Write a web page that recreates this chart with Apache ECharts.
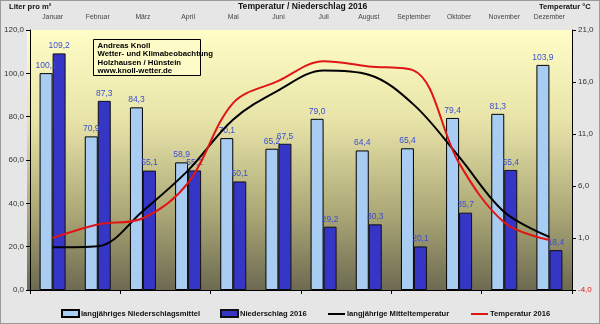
<!DOCTYPE html>
<html><head><meta charset="utf-8">
<script src="https://cdn.jsdelivr.net/npm/echarts@6/dist/echarts.min.js"></script>
<style>
html,body{margin:0;padding:0;background:#e4e4e4;}
#c{width:598px;height:322px;border:1px solid #9a9a9a;background:#e6e6e6;}
</style></head><body>
<div id="c"></div>
<script>
const months = ['Januar','Februar','März','April','Mai','Juni','Juli','August','September','Oktober','November','Dezember'];
const precipMean = [100.1, 70.9, 84.3, 58.9, 70.1, 65.2, 79.0, 64.4, 65.4, 79.4, 81.3, 103.9];
const precip2016 = [109.2, 87.3, 55.1, 55.2, 50.1, 67.5, 29.2, 30.3, 20.1, 35.7, 55.4, 18.4];
const tempMean = [0.1, 0.2, 3.6, 7.5, 12.4, 15.2, 17.1, 16.7, 13.8, 8.8, 3.5, 1.1];
const temp2016 = [1.0, 2.3, 2.9, 6.3, 14.0, 16.1, 18.0, 17.5, 17.1, 8.2, 2.5, 0.8];
const leftTicks = [0, 20, 40, 60, 80, 100, 120];
const rightTicks = [-4, 1, 6, 11, 16, 21];
const names = ['langjähriges Niederschlagsmittel','Niederschlag 2016','langjährige Mitteltemperatur','Temperatur 2016'];

const fmt = v => Number(v).toFixed(1).replace('.', ',');
const FONT = 'Liberation Sans, Arial, sans-serif';
const chart = echarts.init(document.getElementById('c'));
const barLabel = {show:true, position:'top', distance:3, fontSize:8.5, color:'#3b4fd0', fontFamily:FONT, formatter:p=>fmt(p.value)};
const legendPos = [60, 219, 327, 470];
const legendIcons = ['rect', 'rect', 'path://M0,0H17V2H0Z', 'path://M0,0H17V2H0Z'];
chart.setOption({
  animation:false,
  textStyle:{fontFamily:FONT},
  title:[
    {text:'Liter pro m²', left:8, top:2, padding:0, textStyle:{fontSize:7.6, fontWeight:'bold', color:'#111'}},
    {text:'Temperatur / Niederschlag 2016', left:237, top:1, padding:0, textStyle:{fontSize:8.6, fontWeight:'bold', color:'#111'}},
    {text:'Temperatur °C', left:538, top:2, padding:0, textStyle:{fontSize:7.6, fontWeight:'bold', color:'#111'}}
  ],
  grid:{left:25, right:27, top:29, bottom:33},
  legend: names.map((n,i)=>({
    bottom:5, left:legendPos[i], itemWidth:17, itemHeight:7, itemGap:0, padding:0,
    textStyle:{fontSize:7.6, fontWeight:'bold', color:'#111', padding:[0,0,0,-3]},
    data:[{name:n, icon:legendIcons[i]}]
  })),
  xAxis:[
    {type:'category', data:months, position:'bottom',
     axisLine:{lineStyle:{color:'#000'}}, axisTick:{show:true, length:4, lineStyle:{color:'#000'}},
     axisLabel:{show:false}},
    {type:'category', data:months, position:'top',
     axisLine:{show:false}, axisTick:{show:false},
     axisLabel:{fontSize:6.8, color:'#444', margin:9, interval:0}}
  ],
  yAxis:[
    {type:'value', min:0, max:120, interval:20, position:'left',
     axisLine:{show:true, lineStyle:{color:'#000'}},
     axisTick:{show:true, length:4, lineStyle:{color:'#000'}},
     splitLine:{show:false},
     axisLabel:{fontSize:8, color:'#333', margin:6, formatter:v=>fmt(v)}},
    {type:'value', min:-4, max:21, position:'right',
     axisLine:{show:true, lineStyle:{color:'#000'}},
     axisTick:{show:true, length:4, inside:false, customValues:rightTicks, lineStyle:{color:'#000'}},
     splitLine:{show:false},
     axisLabel:{fontSize:8, color:'#333', margin:6, customValues:rightTicks,
       formatter:v=> v<0 ? '{r|'+fmt(v)+'}' : fmt(v), rich:{r:{color:'#e01515', fontSize:8}}}}
  ],
  graphic:[
    {type:'rect', z:-10, silent:true, shape:{x:26, y:29, width:546, height:261},
     style:{fill:new echarts.graphic.LinearGradient(0,0,0,1,[
       {offset:0, color:'#fffec6'},{offset:0.35, color:'#e7e3a8'},{offset:0.7, color:'#aca877'},{offset:1, color:'#6c6951'}])}},
    {type:'group', left:92, top:38, z:100, children:[
      {type:'rect', shape:{x:0, y:0, width:107, height:36}, style:{fill:'#fdfbc8', stroke:'#000', lineWidth:1}},
      {type:'text', x:4, y:2, style:{text:'Andreas Knoll\nWetter- und Klimabeobachtung\nHolzhausen / Hünstein\nwww.knoll-wetter.de',
        font:'bold 7.8px '+FONT, fill:'#000', lineHeight:8.5}}
    ]}
  ],
  series:[
    {name:names[0], type:'bar', data:precipMean, barWidth:13, barGap:'0%',
     itemStyle:{color:'#a8ccf2', borderColor:'#000', borderWidth:1}, label:barLabel},
    {name:names[1], type:'bar', data:precip2016, barWidth:13,
     itemStyle:{color:'#3535c6', borderColor:'#111', borderWidth:1}, label:barLabel},
    {name:names[2], type:'line', yAxisIndex:1, data:tempMean, smooth:0.35, symbol:'none',
     lineStyle:{color:'#000', width:2}, itemStyle:{color:'#000'}, z:5},
    {name:names[3], type:'line', yAxisIndex:1, data:temp2016, smooth:0.35, symbol:'none',
     lineStyle:{color:'#e01515', width:2}, itemStyle:{color:'#e01515'}, z:6}
  ]
});
</script></body></html>
